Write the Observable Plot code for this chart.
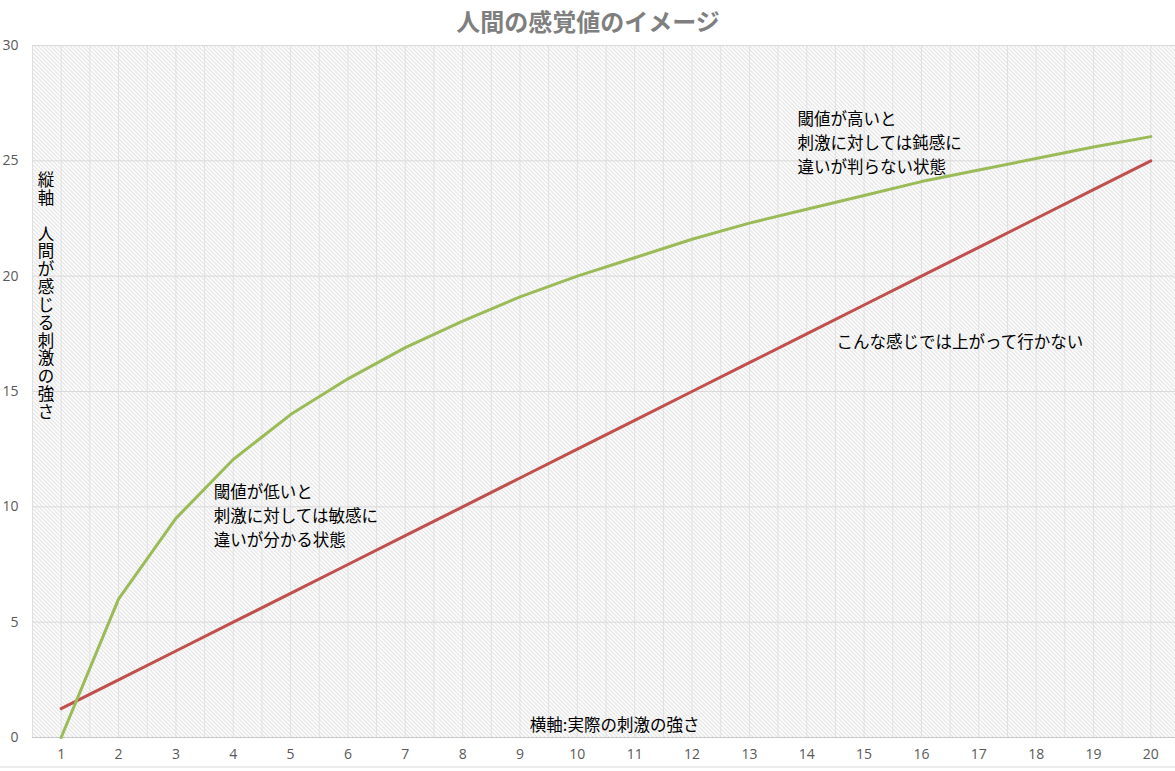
<!DOCTYPE html>
<html><head><meta charset="utf-8">
<script src="https://cdn.jsdelivr.net/npm/d3@7"></script>
<script src="https://cdn.jsdelivr.net/npm/@observablehq/plot@0.6"></script>
<style>html,body{margin:0;padding:0;background:#fff;overflow:hidden}</style>
</head><body><div id="chart"></div>
<script>
const title = "人間の感覚値のイメージ";
const categories = [1,2,3,4,5,6,7,8,9,10,11,12,13,14,15,16,17,18,19,20];
const sensed = [0,6.0,9.5,12.05,14.0,15.55,16.9,18.05,19.1,20.0,20.8,21.6,22.3,22.9,23.5,24.1,24.6,25.1,25.6,26.05];
const actual = [1.25,2.5,3.75,5,6.25,7.5,8.75,10,11.25,12.5,13.75,15,16.25,17.5,18.75,20,21.25,22.5,23.75,25];
const yTicks = [0,5,10,15,20,25,30];
const yLabel = "縦軸　人間が感じる刺激の強さ";
const xLabel = "横軸:実際の刺激の強さ";
const notes = [
  "閾値が低いと\n刺激に対しては敏感に\n違いが分かる状態",
  "閾値が高いと\n刺激に対しては鈍感に\n違いが判らない状態",
  "こんな感じでは上がって行かない"
];
const noteX = [3.66, 13.84, 14.52];
const noteY = [11.1, 27.3, 17.12];

const FONT = "'Noto Sans CJK JP', sans-serif";
const gridX = categories.flatMap(c => [c - 0.5, c]).concat([categories[categories.length-1] + 0.5]);
const rows = categories.map((c, i) => ({c, sensed: sensed[i], actual: actual[i]}));
const yLabelVertical = Array.from(yLabel).join("\n");

const svg = Plot.plot({
  width: 1175, height: 771,
  marginTop: 45, marginBottom: 34, marginLeft: 32, marginRight: 0,
  style: {fontFamily: FONT, background: "#fff"},
  x: {type: "linear", domain: [0.5, 20.5], range: [32, 1179], axis: null},
  y: {domain: [0, 30], axis: null},
  marks: [
    Plot.frame({fill: "#fff", stroke: "none"}),
    Plot.ruleX(gridX, {stroke: "#e0e0e0", strokeWidth: 1}),
    Plot.ruleY(yTicks, {stroke: "#dadada", strokeWidth: 1}),
    Plot.ruleY([0], {stroke: "#c8c8c8", strokeWidth: 1}),
    Plot.axisY({ticks: yTicks, tickSize: 0, tickPadding: 14, fontSize: 14, fill: "#595959", fontFamily: "'Open Sans', sans-serif", label: null}),
    Plot.axisX({ticks: categories, tickSize: 0, tickPadding: 12, fontSize: 14, fill: "#595959", fontFamily: "'Open Sans', sans-serif", label: null, tickFormat: d => String(d)}),
    Plot.line(rows, {x: "c", y: "actual", stroke: "#C0504D", strokeWidth: 3}),
    Plot.line(rows, {x: "c", y: "sensed", stroke: "#9BBB59", strokeWidth: 3}),
    Plot.text([title], {frameAnchor: "top", dx: -16, dy: -22, lineAnchor: "middle", fontSize: 24, fontWeight: "bold", fill: "#7f7f7f"}),
    Plot.text(notes.slice(0, 2), {x: (d, i) => noteX[i], y: (d, i) => noteY[i], textAnchor: "start", lineAnchor: "top", lineHeight: 1.45, fontSize: 16.5, fill: "#000"}),
    Plot.text([notes[2]], {x: noteX[2], y: noteY[2], textAnchor: "start", lineAnchor: "middle", fontSize: 16.5, fill: "#000"}),
    Plot.text([xLabel], {x: 10.65, y: 0.52, textAnchor: "middle", lineAnchor: "middle", fontSize: 16.5, fill: "#000"}),
    Plot.text([yLabelVertical], {x: 0.735, y: 24.45, textAnchor: "middle", lineAnchor: "top", lineHeight: 1.08, fontSize: 16.5, fill: "#000"})
  ]
});

const s = d3.select(svg);
s.insert("defs", ":first-child").html(
  '<pattern id="hatch" patternUnits="userSpaceOnUse" width="4" height="4">' +
  '<path d="M-1,-1 L5,5 M-1,3 L1,5 M3,-1 L5,1" stroke="#cbcbcb" stroke-width="0.9"/></pattern>');
const f = svg.querySelector('[aria-label="frame"]');
if (f) { const r = f.tagName.toLowerCase() === "rect" ? f : f.querySelector("rect"); if (r) r.setAttribute("fill", "url(#hatch)"); }
s.append("line").attr("x1", 0).attr("x2", 1175).attr("y1", 767).attr("y2", 767).attr("stroke", "#d9d9d9");
document.getElementById("chart").appendChild(svg);
</script>
</body></html>
